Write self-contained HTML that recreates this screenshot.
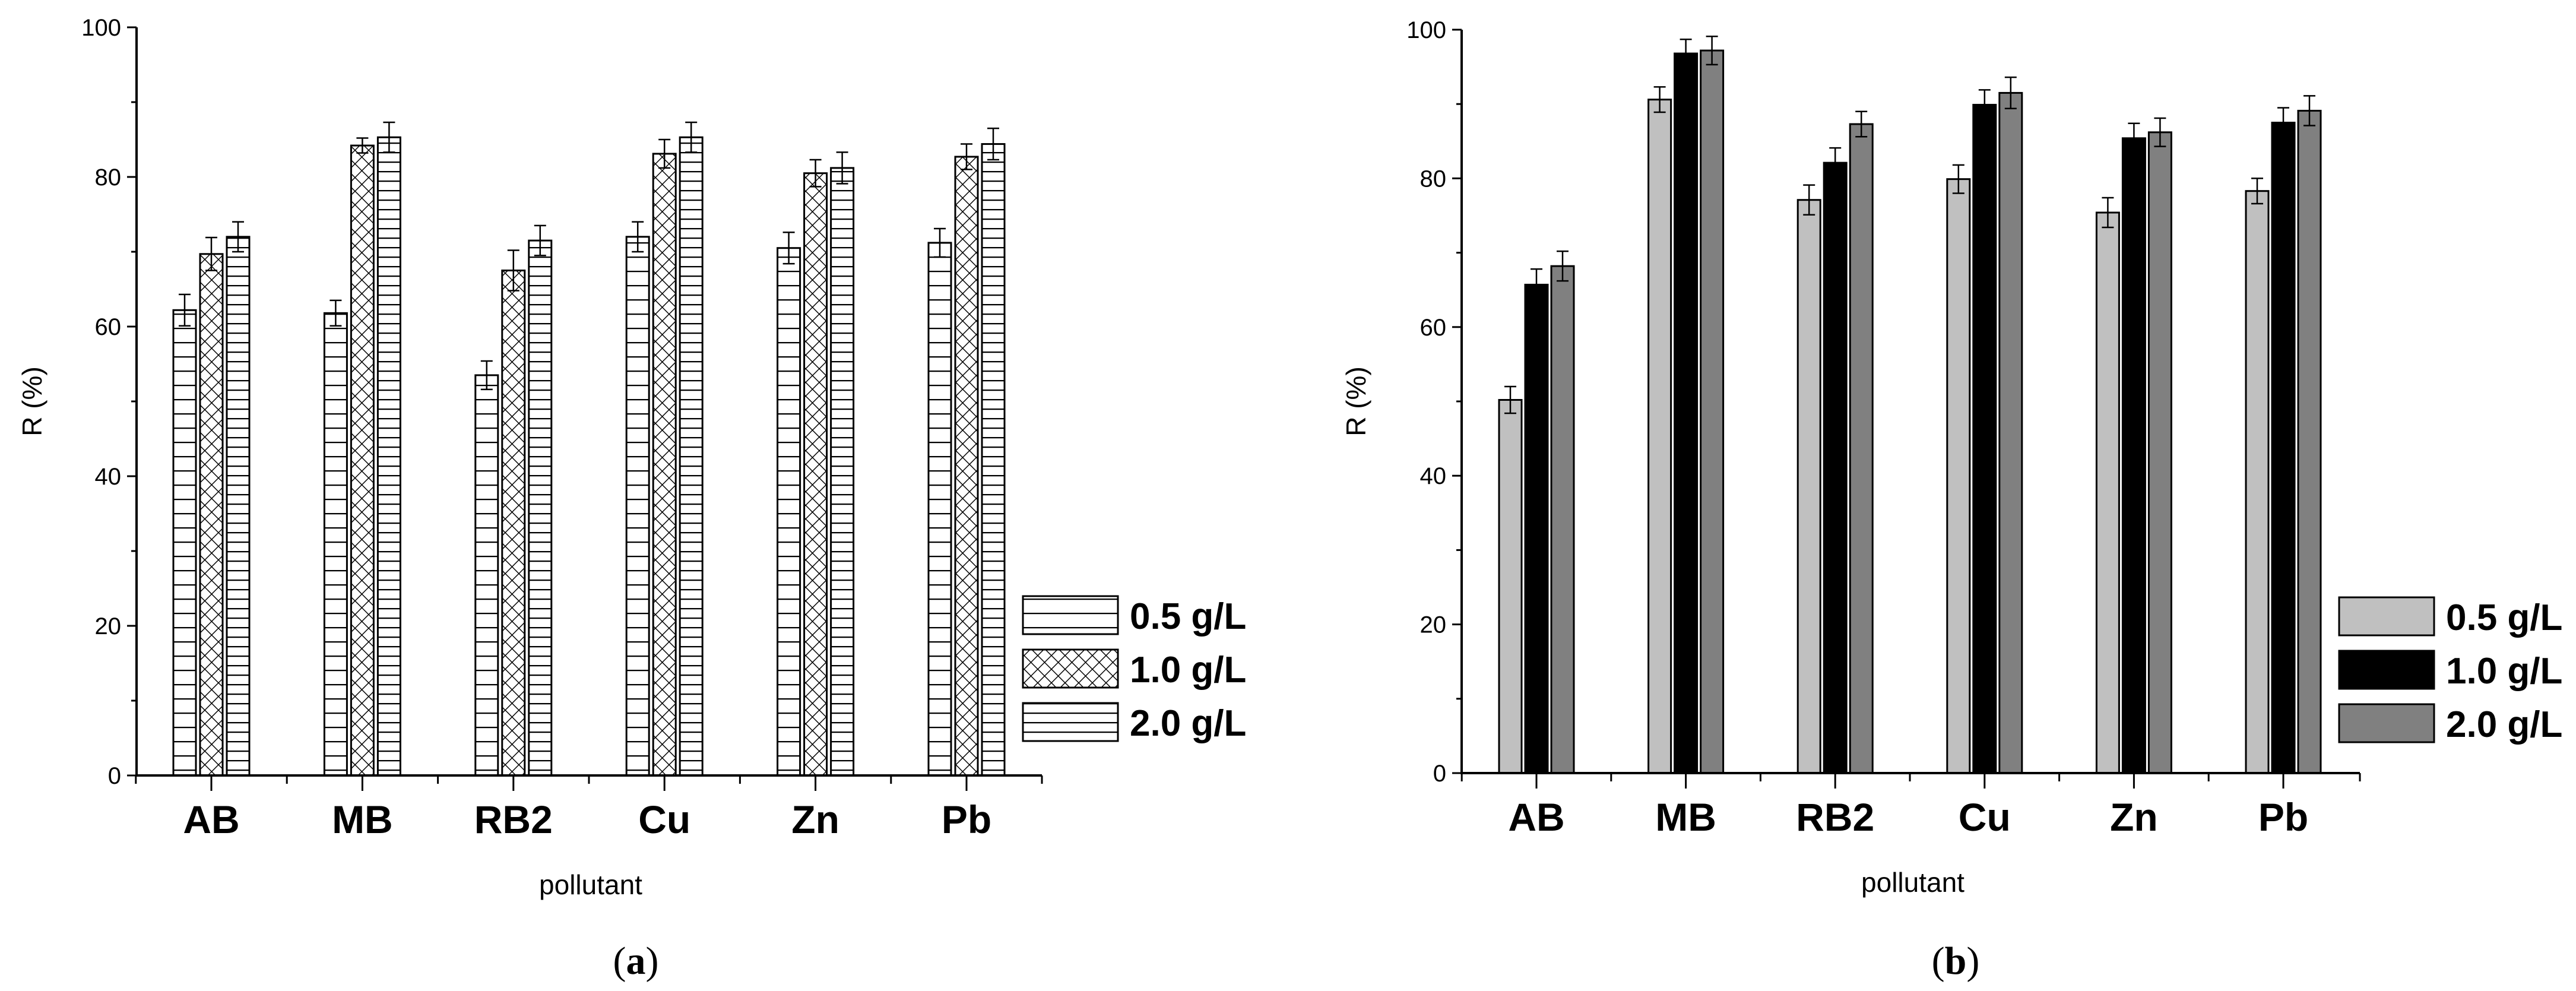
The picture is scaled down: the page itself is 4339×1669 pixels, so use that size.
<!DOCTYPE html>
<html><head><meta charset="utf-8"><style>
html,body{margin:0;padding:0;background:#fff;}
svg{display:block;}
</style></head><body>
<svg id="fig" width="4339" height="1669" viewBox="0 0 4339 1669" xmlns="http://www.w3.org/2000/svg">
<defs>
<pattern id="hl24" patternUnits="userSpaceOnUse" width="40" height="24"><rect width="40" height="24" fill="#fff"/><line x1="0" y1="1" x2="40" y2="1" stroke="#000" stroke-width="2.5"/></pattern>
<pattern id="hl16" patternUnits="userSpaceOnUse" width="40" height="16"><rect width="40" height="16" fill="#fff"/><line x1="0" y1="1" x2="40" y2="1" stroke="#000" stroke-width="2.5"/></pattern>
<pattern id="xh" patternUnits="userSpaceOnUse" width="23" height="23"><rect width="23" height="23" fill="#fff"/><path d="M0,0L23,23M23,0L0,23" stroke="#000" stroke-width="1.5"/></pattern>
</defs>
<g id="chartA"></g>
<g id="chartB"></g>
</svg>
<script>
const categories = ["AB","MB","RB2","Cu","Zn","Pb"];
const seriesNames = ["0.5 g/L","1.0 g/L","2.0 g/L"];
const yTicks = [0,20,40,60,80,100];
const aS1 = [62.2,61.8,53.5,72.0,70.5,71.2];
const aS2 = [69.7,84.2,67.5,83.1,80.5,82.7];
const aS3 = [72.0,85.3,71.5,85.3,81.2,84.4];
const aE1 = [2.1,1.7,1.9,2.0,2.1,1.9];
const aE2 = [2.2,1.0,2.7,1.9,1.8,1.7];
const aE3 = [2.0,2.0,2.0,2.0,2.1,2.1];
const bS1 = [50.2,90.6,77.1,79.9,75.4,78.3];
const bS2 = [65.7,96.8,82.1,89.9,85.4,87.5];
const bS3 = [68.2,97.2,87.3,91.5,86.2,89.1];
const bE1 = [1.8,1.7,2.0,1.9,2.0,1.7];
const bE2 = [2.1,1.9,2.0,2.0,2.0,2.0];
const bE3 = [2.0,1.9,1.7,2.1,1.9,2.0];

const NS="http://www.w3.org/2000/svg";
function mk(parent,tag,attrs,text){const e=document.createElementNS(NS,tag);for(const k in attrs)e.setAttribute(k,attrs[k]);if(text!==undefined)e.textContent=text;parent.appendChild(e);return e;}

function drawChart(g,cfg){
  const yScale=v=>cfg.y0+(cfg.y100-cfg.y0)*v/100;
  const xCenter=i=>cfg.cx0+i*cfg.step;
  const series=[cfg.s1,cfg.s2,cfg.s3], errs=[cfg.e1,cfg.e2,cfg.e3];
  for(let s=0;s<3;s++){
    for(let i=0;i<categories.length;i++){
      const cx=xCenter(i)+(s-1)*cfg.off;
      const v=series[s][i], e=errs[s][i];
      const top=yScale(v);
      const r=mk(g,'rect',{x:cx-cfg.bw/2,y:top,width:cfg.bw,height:cfg.y0-top,fill:cfg.fills[s],stroke:'#000','stroke-width':3});
      
      
      const eb=mk(g,'path',{d:`M${cx},${yScale(v+e)}V${yScale(v-e)}M${cx-10},${yScale(v+e)}H${cx+10}M${cx-10},${yScale(v-e)}H${cx+10}`,stroke:'#000','stroke-width':2.5,fill:'none'});
      
      
    }
  }
  const ax=mk(g,'path',{d:`M${cfg.x0},${cfg.y100}V${cfg.y0}H${cfg.xEnd}`,stroke:'#000','stroke-width':4,fill:'none'});
  
  
  for(let v=0;v<=100;v+=10){
    const major=v%20===0;
    mk(g,'line',{x1:cfg.x0,x2:cfg.x0-(major?16:9),y1:yScale(v),y2:yScale(v),stroke:'#000','stroke-width':3});
  }
  for(const t of yTicks){
    const tl=mk(g,'text',{x:cfg.x0-26,y:yScale(t)+14,'text-anchor':'end','font-family':'Liberation Sans, sans-serif','font-size':40},String(t));
    
    
  }
  for(let i=0;i<categories.length;i++){
    mk(g,'line',{x1:xCenter(i),x2:xCenter(i),y1:cfg.y0,y2:cfg.y0+26,stroke:'#000','stroke-width':3});
    mk(g,'line',{x1:xCenter(i)-cfg.step/2,x2:xCenter(i)-cfg.step/2,y1:cfg.y0,y2:cfg.y0+14,stroke:'#000','stroke-width':3});
    const cl=mk(g,'text',{x:xCenter(i),y:cfg.y0+97,'text-anchor':'middle','font-family':'Liberation Sans, sans-serif','font-size':66,'font-weight':'bold'},categories[i]);
    
    
  }
  mk(g,'line',{x1:cfg.xEnd,x2:cfg.xEnd,y1:cfg.y0,y2:cfg.y0+14,stroke:'#000','stroke-width':3});
  const xt=mk(g,'text',{x:cfg.xTitleX,y:cfg.y0+200,'text-anchor':'middle','font-family':'Liberation Sans, sans-serif','font-size':46},'pollutant');
  
  
  const yt=mk(g,'text',{x:cfg.yTitleX,y:(cfg.y0+cfg.y100)/2,'text-anchor':'middle','font-family':'Liberation Sans, sans-serif','font-size':46,transform:`rotate(-90 ${cfg.yTitleX} ${(cfg.y0+cfg.y100)/2})`},'R (%)');
  
  
  for(let s=0;s<3;s++){
    const ly=cfg.legY+s*90;
    const lr=mk(g,'rect',{x:cfg.legX,y:ly,width:160,height:64,fill:cfg.fills[s],stroke:'#000','stroke-width':3});
    
    
    const lt=mk(g,'text',{x:cfg.legX+180,y:ly+55,'font-family':'Liberation Sans, sans-serif','font-size':62,'font-weight':'bold'},seriesNames[s]);
    
    
  }
  const cap=mk(g,'text',{x:cfg.capX,y:1640,'text-anchor':'middle','font-family':'Liberation Serif, serif','font-size':66},'');
  
  
  mk(cap,'tspan',{},'(');
  mk(cap,'tspan',{'font-weight':'bold'},cfg.letter);
  mk(cap,'tspan',{},')');
}

drawChart(document.getElementById('chartA'),{
  x0:230,xEnd:1755,y0:1306,y100:46,cx0:356,step:254.4,off:45,bw:38,
  s1:aS1,s2:aS2,s3:aS3,e1:aE1,e2:aE2,e3:aE3,
  fills:['url(#hl24)','url(#xh)','url(#hl16)'],
  legX:1723,legY:1004,xTitleX:995,yTitleX:70,capX:1071,letter:'a'
});
drawChart(document.getElementById('chartB'),{
  x0:2462,xEnd:3975,y0:1302,y100:50,cx0:2588,step:251.6,off:44,bw:38,
  s1:bS1,s2:bS2,s3:bS3,e1:bE1,e2:bE2,e3:bE3,
  fills:['#c0c0c0','#000000','#808080'],
  legX:3940,legY:1006,xTitleX:3222,yTitleX:2300,capX:3294,letter:'b'
});
</script>
</body></html>
